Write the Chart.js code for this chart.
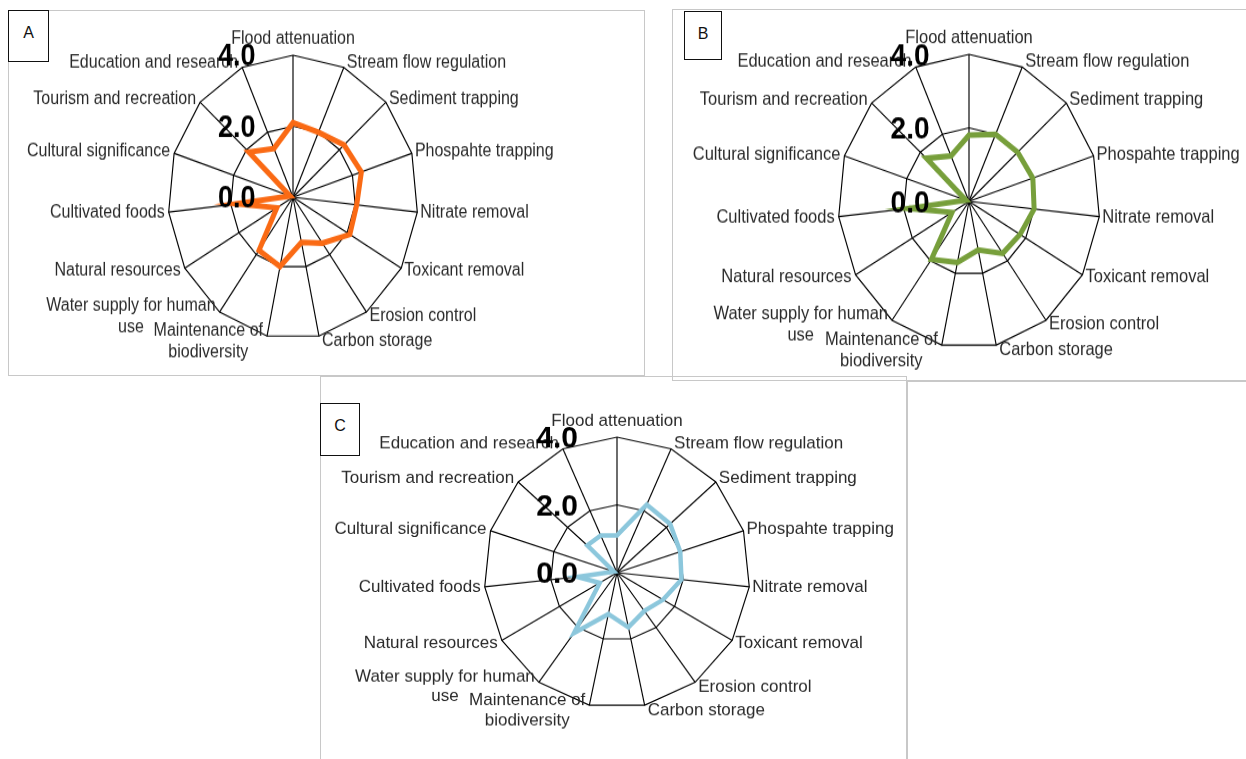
<!DOCTYPE html>
<html>
<head>
<meta charset="utf-8">
<script src="https://cdn.jsdelivr.net/npm/chart.js@4.4.1/dist/chart.umd.min.js"></script>
<style>
  body { margin: 0; width: 1246px; height: 759px; overflow: hidden; position: relative; background: #fff;
         font-family: "Liberation Sans", Arial, sans-serif; }
  .frame { position: absolute; border: 1px solid #c8c8c8; box-sizing: border-box; }
  .tag { position: absolute; border: 1.5px solid #111; box-sizing: border-box; background: #fff;
         font-size: 16px; color: #111; text-align: center; padding-top: 13px; }
  canvas { position: absolute; transform-origin: 0 0; }
</style>
</head>
<body>
<div class="frame" style="left:8px;top:10px;width:637px;height:366px"></div>
<div class="frame" style="left:672px;top:9px;width:590px;height:372px"></div>
<div class="frame" style="left:320px;top:376px;width:587px;height:400px"></div>
<div class="frame" style="left:907px;top:381px;width:360px;height:400px"></div>

<canvas id="chartA"></canvas>
<canvas id="chartB"></canvas>
<canvas id="chartC"></canvas>

<div class="tag" style="left:8px;top:10px;width:41px;height:52px">A</div>
<div class="tag" style="left:684px;top:11px;width:38px;height:49px">B</div>
<div class="tag" style="left:320px;top:403px;width:40px;height:53px">C</div>

<script>
// ecosystem services (15 axes)
const categories = [
  'Flood attenuation', 'Stream flow regulation', 'Sediment trapping', 'Phospahte trapping',
  'Nitrate removal', 'Toxicant removal', 'Erosion control', 'Carbon storage',
  ['Maintenance of', 'biodiversity'], ['Water supply for human', 'use'], 'Natural resources',
  'Cultivated foods', 'Cultural significance', 'Tourism and recreation', 'Education and research'
];
const valuesA = [2.1, 2.0, 2.2, 2.3, 2.05, 2.1, 1.6, 1.3, 2.0, 1.85, 0.6, 1.8, 0.1, 1.9, 1.5];
const valuesB = [1.8, 2.0, 2.0, 2.05, 2.0, 1.8, 1.75, 1.35, 1.7, 1.95, 0.6, 1.85, 0.1, 1.75, 1.35];
const valuesC = [1.1, 2.2, 2.15, 2.0, 1.95, 1.6, 1.4, 1.65, 1.25, 2.2, 0.6, 1.2, 0.1, 1.2, 1.2];
const tickValues = [0, 2, 4];

// labels drawn the excel way: next to the spoke ends, scale numbers offset to the left
const excelLabels = {
  id: 'excelLabels',
  afterDatasetsDraw(chart, args, opts) {
    const ctx = chart.ctx;
    const sc = chart.scales.r;
    const n = chart.data.labels.length;
    const s = opts.stretch;
    ctx.save();
    ctx.fillStyle = '#2a2a2a';
    ctx.font = opts.size + 'px "Liberation Sans", Arial, sans-serif';
    ctx.textAlign = 'center';
    ctx.textBaseline = 'middle';
    const lh = opts.size * 1.15;
    chart.data.labels.forEach((lab, i) => {
      const lines = Array.isArray(lab) ? lab : [lab];
      const deg = i * 360 / n;
      const p = sc.getPointPosition(i, sc.drawingArea);
      const w = Math.max(...lines.map(l => ctx.measureText(l).width));
      let x0;
      if (deg === 0) x0 = p.x - w / 2;
      else if (deg < 180) x0 = p.x + 3;
      else x0 = p.x - w - 4;
      let yc = p.y - 5.5 * Math.cos(deg * Math.PI / 180) / s;
      if (deg === 0) yc = p.y - opts.size * 0.9;
      lines.forEach((l, j) => {
        ctx.fillText(l, x0 + w / 2, yc + (j - (lines.length - 1) / 2) * lh);
      });
    });
    ctx.font = 'bold ' + opts.tickSize + 'px "Liberation Sans", Arial, sans-serif';
    ctx.fillStyle = '#000';
    sc.ticks.forEach(t => {
      const d = sc.getDistanceFromCenterForValue(t.value);
      ctx.fillText(t.value.toFixed(1), sc.xCenter - 0.45 * sc.drawingArea, sc.yCenter - d + 2);
    });
    ctx.restore();
  }
};

function drawPanel(id, values, color, lw, cfg) {
  const W = 600, H = 2 * cfg.rx + 120;
  const s = cfg.ry / cfg.rx;
  const cv = document.getElementById(id);
  cv.width = W; cv.height = H;
  cv.style.width = W + 'px'; cv.style.height = H + 'px';
  cv.style.left = (cfg.cx - W / 2) + 'px';
  cv.style.top = (cfg.cy - s * H / 2) + 'px';
  cv.style.transform = 'scaleY(' + s + ')';
  const padX = (W - 2 * cfg.rx) / 2, padY = (H - 2 * cfg.rx) / 2;
  new Chart(cv, {
    type: 'radar',
    data: {
      labels: categories,
      datasets: [{
        data: values,
        borderColor: color,
        borderWidth: lw,
        fill: false,
        pointRadius: 0,
        tension: 0
      }]
    },
    options: {
      responsive: false,
      animation: false,
      layout: { padding: { left: padX, right: padX, top: padY, bottom: padY } },
      plugins: {
        legend: { display: false },
        tooltip: { enabled: false },
        excelLabels: { size: cfg.font, tickSize: cfg.tick, stretch: s }
      },
      scales: {
        r: {
          min: 0,
          max: 4,
          afterBuildTicks: (scale) => { scale.ticks = tickValues.map(v => ({ value: v })); },
          ticks: { display: false },
          grid: { color: '#000', lineWidth: 1.15 },
          angleLines: { color: '#000', lineWidth: 1.15 },
          pointLabels: { display: false }
        }
      }
    },
    plugins: [excelLabels]
  });
}

drawPanel('chartA', valuesA, '#fa6a14', 5, { cx: 293, cy: 197, rx: 125, ry: 142, font: 16, tick: 27 });
drawPanel('chartB', valuesB, '#779f3b', 5, { cx: 969, cy: 201, rx: 131, ry: 147, font: 16.5, tick: 28 });
drawPanel('chartC', valuesC, '#8cc7dc', 4.5, { cx: 617, cy: 573, rx: 133, ry: 135.5, font: 17, tick: 30 });
</script>
</body>
</html>
